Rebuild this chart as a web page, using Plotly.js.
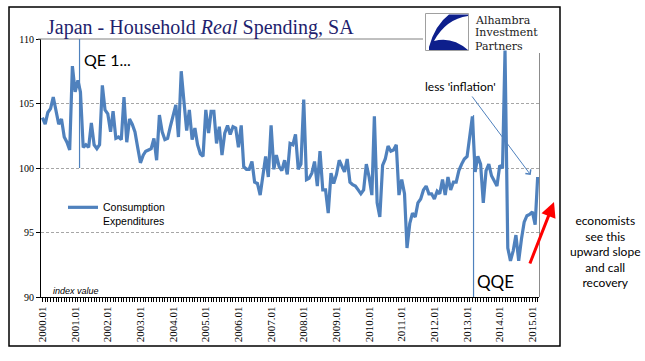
<!DOCTYPE html>
<html>
<head>
<meta charset="utf-8">
<script src="https://cdn.plot.ly/plotly-3.0.1.min.js"></script>
<style>
  html, body { margin: 0; padding: 0; background: #fff; }
  #chart { width: 645px; height: 361px; }
</style>
</head>
<body>
<div id="chart"></div>
<script>
// ---- Data: Japan household real spending, SA (index value), monthly 2000.01 - 2015.03 ----
const spend2000 = [103.9, 103.4, 104.3, 104.6, 105.5, 104.3, 103.4, 103.8, 102.4, 102.0, 101.4, 107.9];
const spend2001 = [105.9, 106.8, 105.9, 101.6, 101.8, 101.6, 103.5, 101.8, 101.5, 101.8, 106.4, 104.5];
const spend2002 = [104.2, 102.8, 104.4, 102.3, 102.4, 102.2, 105.5, 102.0, 103.8, 103.4, 102.8, 101.6];
const spend2003 = [100.4, 101.0, 101.3, 101.4, 101.5, 102.3, 100.6, 104.1, 102.8, 102.2, 102.3, 103.2];
const spend2004 = [104.1, 104.9, 102.4, 107.5, 105.2, 102.9, 104.5, 102.2, 103.1, 101.8, 101.1, 100.9];
const spend2005 = [104.5, 102.7, 104.4, 104.4, 101.9, 103.2, 101.0, 102.7, 103.3, 102.6, 103.2, 103.1];
const spend2006 = [101.6, 103.3, 100.1, 99.9, 99.9, 100.5, 98.9, 98.8, 97.9, 99.3, 100.9, 99.3];
const spend2007 = [103.3, 99.9, 101.0, 100.1, 99.8, 100.6, 99.5, 101.9, 101.8, 102.6, 99.9, 100.3];
const spend2008 = [105.3, 99.1, 99.2, 99.6, 100.5, 98.6, 101.3, 98.3, 98.3, 96.5, 99.6, 98.8];
const spend2009 = [99.5, 100.6, 100.1, 99.7, 100.7, 98.9, 98.7, 98.6, 98.3, 98.0, 98.3, 100.3];
const spend2010 = [99.3, 97.9, 104.0, 97.3, 96.2, 100.2, 100.7, 101.7, 101.3, 101.4, 101.8, 97.9];
const spend2011 = [99.1, 98.0, 93.8, 95.7, 96.5, 96.2, 97.3, 97.6, 98.3, 98.6, 98.0, 98.0];
const spend2012 = [97.6, 98.2, 98.0, 99.1, 97.9, 99.3, 98.3, 98.9, 98.9, 99.8, 100.3, 100.7];
const spend2013 = [100.9, 102.4, 104.0, 99.7, 100.9, 100.3, 97.3, 99.8, 100.3, 99.4, 99.0, 98.6];
const spend2014 = [100.2, 100.0, 109.1, 93.8, 92.8, 93.6, 94.8, 92.8, 94.5, 95.8, 96.3, 96.4];
const spend2015 = [96.6, 95.6, 99.3];

const years = [2000, 2001, 2002, 2003, 2004, 2005, 2006, 2007, 2008, 2009, 2010, 2011, 2012, 2013, 2014, 2015];
const yearly = [spend2000, spend2001, spend2002, spend2003, spend2004, spend2005, spend2006, spend2007,
                spend2008, spend2009, spend2010, spend2011, spend2012, spend2013, spend2014, spend2015];
const tickLabels = ['2000.01','2001.01','2002.01','2003.01','2004.01','2005.01','2006.01','2007.01',
                    '2008.01','2009.01','2010.01','2011.01','2012.01','2013.01','2014.01','2015.01'];
const seriesName = 'Consumption<br>Expenditures';

// Build month categories (as dates) and values
const months = [];
const values = [];
yearly.forEach((arr, i) => {
  arr.forEach((v, j) => {
    months.push(years[i] + '-' + String(j + 1).padStart(2, '0') + '-01');
    values.push(v);
  });
});
const tickVals = years.map(y => y + '-01-01');

// ---- pixel helpers for decorations (plot area: x 41..539, y 39..297) ----
const L = 41, R = 539, T = 39, B = 297;
const px = x => (x - L) / (R - L);
const py = y => (B - y) / (B - T);
const pathPx = pts => pts.map(p => typeof p === 'string' ? p : px(p[0]).toFixed(5) + ',' + py(p[1]).toFixed(5)).join(' ');

const blue = '#4F81BD';
const sans = 'Lato, "Open Sans", sans-serif';

const trace = {
  x: months, y: values, type: 'scatter', mode: 'lines', name: seriesName,
  line: { color: blue, width: 3.2 }
};

const shapes = [
  // outer frame
  { type: 'rect', xref: 'paper', yref: 'paper', x0: px(9), x1: px(560), y0: py(346), y1: py(7),
    line: { color: '#000', width: 1.5 }, layer: 'below' },
  // title rule at 110
  { type: 'line', xref: 'paper', yref: 'paper', x0: px(38), x1: px(423), y0: 1, y1: 1,
    line: { color: '#808080', width: 1 } },
  // right gray line
  { type: 'line', xref: 'paper', yref: 'paper', x0: px(539.5), x1: px(539.5), y0: 0, y1: py(53),
    line: { color: '#8c8c8c', width: 1 } },
  // QE 1 marker
  { type: 'line', xref: 'x', yref: 'y', x0: '2001-02-19', x1: '2001-02-19', y0: 100, y1: 110,
    line: { color: blue, width: 1.2 } },
  // QQE marker
  { type: 'line', xref: 'x', yref: 'y', x0: '2013-03-14', x1: '2013-03-14', y0: 90, y1: 104.1,
    line: { color: blue, width: 1.2 } },
  // logo box
  { type: 'rect', xref: 'paper', yref: 'paper', x0: px(425.5), x1: px(468.5), y0: py(50.5), y1: py(13.5),
    line: { color: '#a0a0a0', width: 1 }, fillcolor: '#fff' },
  // logo swoosh
  { type: 'path', xref: 'paper', yref: 'paper', fillcolor: '#0d1f8c', line: { width: 0 },
    path: 'M ' + pathPx([[449, 14.5], 'L', [468, 14.5], 'L', [468, 16], 'Q', [446, 19], [434, 41],
      'Q', [452, 36], [468, 50], 'L', [429, 50], 'L', [429, 47], 'Q', [435, 25], [449, 14.5]]) + ' Z' }
];

const logoFont = { family: 'DejaVu Serif, serif', size: 11, color: '#1a1a1a' };

const annotations = [
  { xref: 'paper', yref: 'paper', x: px(82), y: py(59), xanchor: 'left', yanchor: 'middle',
    text: 'QE 1...', showarrow: false, font: { family: sans, size: 16, color: '#000' } },
  { xref: 'paper', yref: 'paper', x: px(475), y: py(281), xanchor: 'left', yanchor: 'middle',
    text: 'QQE', showarrow: false, font: { family: sans, size: 17, color: '#000' } },
  { xref: 'paper', yref: 'paper', x: px(423), y: py(86), xanchor: 'left', yanchor: 'middle',
    text: "less 'inflation'", showarrow: false, font: { family: sans, size: 12, color: '#000' } },
  { xref: 'paper', yref: 'paper', x: px(51), y: py(291), xanchor: 'left', yanchor: 'middle',
    text: '<i>index value</i>', showarrow: false, font: { family: 'Liberation Sans, Arial, sans-serif', size: 9, color: '#000' } },
  { xref: 'paper', yref: 'paper', x: px(605), y: py(251), xanchor: 'center', yanchor: 'middle', align: 'center',
    text: 'economists<br>see this<br>upward slope<br>and call<br>recovery', showarrow: false,
    font: { family: sans, size: 12, color: '#000' } },
  // thin arrow
  { xref: 'paper', yref: 'paper', x: px(530.7), y: py(175), ax: 471 - 530.7, ay: 95 - 175,
    text: '', showarrow: true, arrowhead: 4, arrowsize: 1.3, arrowwidth: 1, arrowcolor: blue, standoff: 0, startstandoff: 0 },
  // red arrow
  { xref: 'paper', yref: 'paper', x: px(554), y: py(202), ax: 529.3 - 554, ay: 265 - 202,
    text: '', showarrow: true, arrowhead: 2, arrowsize: 1, arrowwidth: 3, arrowcolor: '#FF0000', standoff: 0 },
  // logo text
  { xref: 'paper', yref: 'paper', x: px(473), y: py(20), xanchor: 'left', yanchor: 'middle', text: 'Alhambra',
    showarrow: false, font: logoFont },
  { xref: 'paper', yref: 'paper', x: px(473), y: py(33), xanchor: 'left', yanchor: 'middle', text: 'Investment',
    showarrow: false, font: logoFont },
  { xref: 'paper', yref: 'paper', x: px(473), y: py(46), xanchor: 'left', yanchor: 'middle', text: 'Partners',
    showarrow: false, font: logoFont }
];

const layout = {
  width: 645, height: 361,
  margin: { l: L, r: 645 - R, t: T, b: 361 - B, pad: 0 },
  paper_bgcolor: '#fff', plot_bgcolor: '#fff',
  title: {
    text: 'Japan - Household <i>Real</i> Spending, SA',
    font: { family: 'Liberation Serif, "Times New Roman", serif', size: 20, color: '#1F1F6E' },
    xref: 'container', yref: 'container', x: 47 / 645, xanchor: 'left', y: 1 - 27 / 361, yanchor: 'middle'
  },
  showlegend: true,
  legend: {
    x: px(63), y: py(194), xanchor: 'left', yanchor: 'top', valign: 'top',
    bgcolor: 'rgba(0,0,0,0)', borderwidth: 0, itemwidth: 30,
    font: { family: 'Liberation Sans, Arial, sans-serif', size: 10.5, color: '#000' }
  },
  xaxis: {
    type: 'date', range: ['1999-12-16', '2015-03-16'],
    tickmode: 'array', tickvals: tickVals, ticktext: tickLabels, tickangle: -90,
    ticks: 'outside', ticklen: 4, tickcolor: '#000', tickwidth: 1,
    minor: { dtick: 'M1', tick0: '2000-01-01', ticks: 'outside', ticklen: 4, tickcolor: '#000', tickwidth: 1, showgrid: false },
    showline: true, linecolor: '#000', linewidth: 1, showgrid: false, zeroline: false,
    tickfont: { family: 'Liberation Serif, "Times New Roman", serif', size: 11, color: '#000' }
  },
  yaxis: {
    range: [90, 110], tickmode: 'array', tickvals: [90, 95, 100, 105, 110],
    ticks: 'outside', ticklen: 4, tickcolor: '#000',
    showline: true, linecolor: '#000', linewidth: 1, zeroline: false,
    showgrid: true, gridcolor: '#a6a6a6', griddash: '3px,2px', gridwidth: 1,
    tickfont: { family: 'Liberation Serif, "Times New Roman", serif', size: 10, color: '#000' }
  },
  shapes: shapes,
  annotations: annotations
};

Plotly.newPlot('chart', [trace], layout, { staticPlot: true, displayModeBar: false });
</script>
</body>
</html>
